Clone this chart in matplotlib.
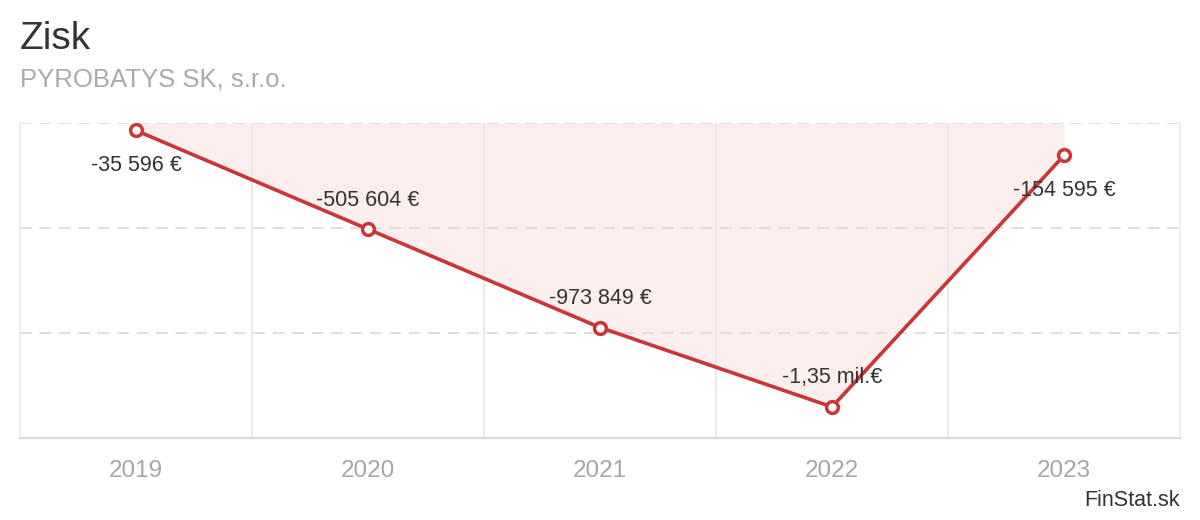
import numpy as np
import matplotlib
matplotlib.use("Agg")
import matplotlib.pyplot as plt

years = ["2019", "2020", "2021", "2022", "2023"]
profit = [-35596, -505604, -973849, -1352000, -154595]
labels = ["-35 596 €", "-505 604 €", "-973 849 €", "-1,35 mil.€", "-154 595 €"]
label_below = [True, False, False, False, True]
grid_values = [0, -500000, -1000000]

plt.rcParams['font.family'] = ['Liberation Sans', 'DejaVu Sans']

fig = plt.figure(figsize=(12, 5.2), dpi=100)
ax = fig.add_axes([20 / 1200, 82 / 520, 1160 / 1200, 315 / 520])

x = np.arange(len(years))
red = '#c9353a'

# area between line and zero
ax.fill_between(x, profit, 0, color='#fbeeed', zorder=1, linewidth=0)

# grid (drawn over the area)
for g in grid_values:
    ax.axhline(g, color='#dedede', linewidth=1.4, linestyle=(0, (6, 4)), zorder=2)
for b in np.arange(0.5, len(years) - 0.5, 1.0):
    ax.axvline(b, color='#e6e6e6', linewidth=1.2, zorder=2)

ax.plot(x, profit, color=red, linewidth=2.6, marker='o', markersize=8.5,
        markerfacecolor='white', markeredgecolor=red, markeredgewidth=2.5, zorder=3)

for i, (v, lab) in enumerate(zip(profit, labels)):
    dy = -25 if label_below[i] else 21
    ax.annotate(lab, (x[i], v), xytext=(0, dy), textcoords='offset points',
                ha='center', va='center', fontsize=15.5, color='#333333', zorder=4)

ax.set_xlim(-0.5, len(years) - 0.5)
ax.set_ylim(-1500000, 0)
ax.set_xticks(x)
ax.set_xticklabels(years, fontsize=17.5, color='#a6a6a6')
ax.set_yticks([])
ax.tick_params(axis='x', length=0, pad=16)

for side in ['left', 'right']:
    ax.spines[side].set_color('#ececec')
    ax.spines[side].set_linewidth(1.2)
ax.spines['top'].set_visible(False)
ax.spines['bottom'].set_color('#d9d9d9')
ax.spines['bottom'].set_linewidth(1.5)

fig.text(20 / 1200, 1 - 39 / 520, "Zisk", fontsize=28, color='#333333', ha='left', va='center')
fig.text(20 / 1200, 1 - 79 / 520, "PYROBATYS SK, s.r.o.", fontsize=18.5, color='#aaaaaa',
         ha='left', va='center')
fig.text(1180 / 1200, 1 - 500 / 520, "FinStat.sk", fontsize=15.5, color='#333333',
         ha='right', va='center')

fig.savefig("out.png", dpi=100)
